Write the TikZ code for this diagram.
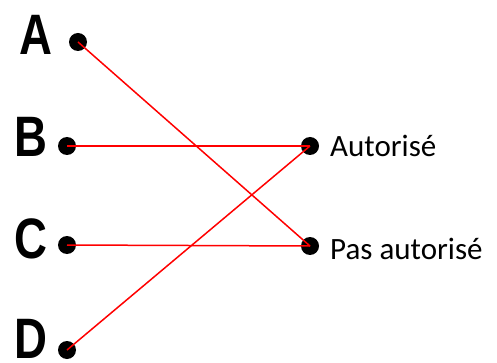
\documentclass[tikz,border=0pt]{standalone}
\usepackage{fontspec}
\setmainfont{Carlito}
\newfontfamily\lettrefont{Liberation Sans}

\begin{document}
\begin{tikzpicture}[x=1pt, y=-1pt,
    point/.style={circle, fill=black, inner sep=0pt, minimum size=18pt},
    lettre/.style={font=\lettrefont\bfseries\fontsize{57}{57}\selectfont, xscale=0.8, anchor=base, inner sep=0pt},
    texte/.style={font=\fontsize{31}{31}\selectfont, anchor=base west, inner sep=0pt},
    lien/.style={red, line width=1.5pt}]
    \useasboundingbox (0,0) rectangle (497,363);

    % Lettres
    \node[lettre] (lA) at (36,55) {A};
    \node[lettre] (lB) at (31,157) {B};
    \node[lettre] (lC) at (31,258) {C};
    \node[lettre] (lD) at (31,358) {D};

    % Points gauche
    \node[point] (pA) at (78,42) {};
    \node[point] (pB) at (67,146) {};
    \node[point] (pC) at (67,245) {};
    \node[point] (pD) at (67,350) {};

    % Points droite
    \node[point] (pAut) at (310,146) {};
    \node[point] (pPas) at (310,246) {};

    % Textes
    \node[texte] (tAut) at (330,157) {Autorisé};
    \node[texte] (tPas) at (330,259) {Pas autorisé};

    % Liens
    \draw[lien] (pA.center) -- (pPas.center);
    \draw[lien] (pB.center) -- (pAut.center);
    \draw[lien] (pC.center) -- (pPas.center);
    \draw[lien] (pD.center) -- (pAut.center);
\end{tikzpicture}
\end{document}
